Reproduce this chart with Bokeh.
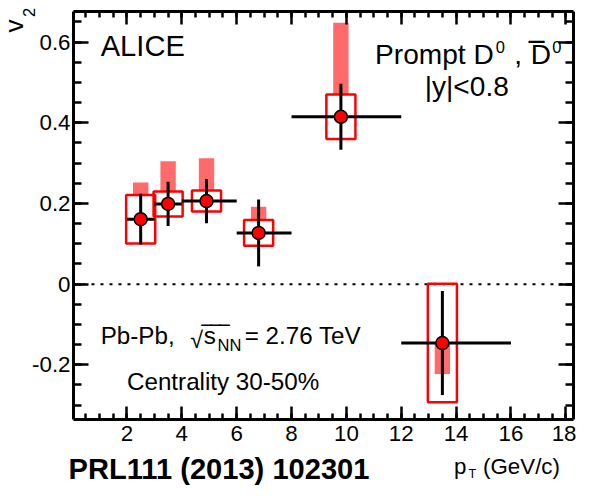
import numpy as np
from bokeh.plotting import figure
from bokeh.models import Label, LinearAxis, FixedTicker, ColumnDataSource
from bokeh.embed import file_html
from bokeh.resources import INLINE

# ---------------- data ----------------
pt = [2.5, 3.5, 4.9, 6.8, 9.8, 13.5]
pt_lo = [2, 3, 4, 6, 8, 12]
pt_hi = [3, 4, 6, 8, 12, 16]
v2 = [0.161, 0.199, 0.206, 0.127, 0.415, -0.146]
v2_stat = [0.063, 0.055, 0.055, 0.083, 0.082, 0.129]
v2_syst = [0.060, 0.031, 0.026, 0.032, 0.055, 0.147]
feeddown_lo = [0.221, 0.230, 0.233, 0.158, 0.470, -0.223]
feeddown_hi = [0.252, 0.305, 0.312, 0.192, 0.648, -0.146]

x_ticks = [2, 4, 6, 8, 10, 12, 14, 16, 18]
x_tick_labels = ["2", "4", "6", "8", "10", "12", "14", "16", "18"]
y_ticks = [-0.2, 0, 0.2, 0.4, 0.6]
y_tick_labels = ["-0.2", "0", "0.2", "0.4", "0.6"]

# ---------------- styles / layout ----------------
FONT = "Liberation Sans"
BOX_HALF = 0.53
FEED_HALF = 0.28

W, H = 576, 485
# reference picture size the layout was measured on
RW, RH = 592, 501
# visible axes box (data units)
X0, X1 = 0.05, 18.28
Y0, Y1 = -0.336, 0.677
# whole canvas (data units) so that texts outside the box are not clipped
XS, XE = -2.611, 18.39
YS, YE = -0.4993, 0.7033
FS = 0.97  # font scale to fit the window

p = figure(width=W, height=H, x_range=(XS, XE), y_range=(YS, YE),
           output_backend="svg", toolbar_location=None, min_border=0)
p.xgrid.visible = False
p.ygrid.visible = False
p.outline_line_color = None
p.background_fill_color = "white"
p.border_fill_color = "white"


def px2x(xr):
    # reference pixel -> data x
    return XS + xr / RW * (XE - XS)


def px2y(yr):
    return YE - yr / RH * (YE - YS)


x_minor = list(np.arange(0.5, 18.01, 0.5))
y_minor = list(np.round(np.arange(-0.3, 0.66, 0.05), 3))


def style_axis(ax, ticks, minor, labels, tin, minin, show, loc, bounds):
    ax.ticker = FixedTicker(ticks=ticks, minor_ticks=minor)
    ax.fixed_location = loc
    ax.bounds = bounds
    ax.axis_line_width = 3
    ax.axis_line_color = "black"
    ax.major_tick_line_width = 2.5
    ax.minor_tick_line_width = 2.5
    ax.major_tick_in = tin
    ax.major_tick_out = 0
    ax.minor_tick_in = minin
    ax.minor_tick_out = 0
    if show:
        ax.major_label_overrides = dict(zip(ticks, labels))
        ax.major_label_text_font = FONT
        ax.major_label_text_font_size = f"{23 * FS:.1f}px"
        ax.major_label_text_color = "black"
    else:
        ax.major_label_overrides = {t: "" for t in ticks}
        ax.major_label_text_font_size = "0px"
        ax.major_label_standoff = 0


style_axis(p.xaxis[0], x_ticks, x_minor, x_tick_labels, 13, 6, True, Y0, (X0, X1))
p.xaxis[0].major_label_standoff = 6
style_axis(p.yaxis[0], y_ticks, y_minor, y_tick_labels, 15, 8, True, X0, (Y0, Y1))
p.yaxis[0].major_label_standoff = 3

top = LinearAxis()
style_axis(top, x_ticks, x_minor, x_tick_labels, 13, 6, False, Y1, (X0, X1))
p.add_layout(top, "above")
right = LinearAxis()
style_axis(right, y_ticks, y_minor, y_tick_labels, 15, 8, False, X1, (Y0, Y1))
p.add_layout(right, "right")

# zero line (dotted, across the axes box)
p.segment(x0=[X0], x1=[X1], y0=[0], y1=[0], line_color="black",
          line_width=2, line_dash="3 6")

pt_a = np.array(pt)
v2_a = np.array(v2)
st_a = np.array(v2_stat)
sy_a = np.array(v2_syst)

src = ColumnDataSource(dict(
    pt=pt_a, v2=v2_a, lo=pt_lo, hi=pt_hi,
    s_lo=v2_a - st_a, s_hi=v2_a + st_a,
    b_lo=v2_a - sy_a, b_hi=v2_a + sy_a,
    bl=pt_a - BOX_HALF, br=pt_a + BOX_HALF,
    fl=pt_a - FEED_HALF, fr=pt_a + FEED_HALF,
    f_lo=feeddown_lo, f_hi=feeddown_hi))

# feed-down uncertainty (pink)
p.quad(left="fl", right="fr", bottom="f_lo", top="f_hi", source=src,
       fill_color="#ff6b6b", fill_alpha=1.0, line_color=None)
# systematic boxes
p.quad(left="bl", right="br", bottom="b_lo", top="b_hi", source=src,
       fill_color=None, line_color="#ff0000", line_width=2.5)
# stat error bars and bin widths
p.segment(x0="lo", x1="hi", y0="v2", y1="v2", source=src,
          line_color="black", line_width=3)
p.segment(x0="pt", x1="pt", y0="s_lo", y1="s_hi", source=src,
          line_color="black", line_width=3)
# markers
p.scatter(x="pt", y="v2", source=src, size=13, marker="circle",
          fill_color="#ff0000", line_color="black", line_width=1.5)


def lab(text, xr, base, size, angle=0, bold=False, color="black"):
    """xr, base: reference pixels of the text start and its baseline."""
    if angle == 0:
        x, y = xr, base - 0.35 * size
    else:  # rotated 90 deg ccw: baseline is a vertical line at x = xr
        x, y = xr - 0.35 * size, base
    p.add_layout(Label(x=px2x(x), y=px2y(y), text=text, angle=angle,
                       text_font=FONT, text_font_size=f"{size * FS:.1f}px",
                       text_font_style="bold" if bold else "normal",
                       text_color=color, text_align="left",
                       text_baseline="middle"))


lab("ALICE", 103, 57, 30)
lab("Prompt D", 385, 66, 29)
lab("0", 509, 54, 17)
lab(",", 528, 66, 29)
lab("D", 545, 66, 29)
lab("\u203e", 544, 75, 42)
lab("0", 567, 54, 17)
lab("|y|<0.8", 436, 99, 29)

lab("Pb-Pb,", 103, 355, 25)
lab("\u221a", 195, 359, 24)
lab("\u203e\u203e\u203e", 207, 357, 28)
lab("s", 209, 355, 25)
lab("NN", 223, 362, 17)
lab("= 2.76 TeV", 251, 355, 25)
lab("Centrality 30-50%", 130, 402, 25)

lab("v", 23, 33, 27, angle=np.pi / 2)
lab("2", 35, 17, 17, angle=np.pi / 2)

lab("PRL111 (2013) 102301", 70, 494, 30, bold=True)
lab("p", 466, 489, 23)
lab("T", 481, 494, 13)
lab("(GeV/c)", 496, 489, 23)

open("out.html", "w").write(file_html(p, INLINE))
